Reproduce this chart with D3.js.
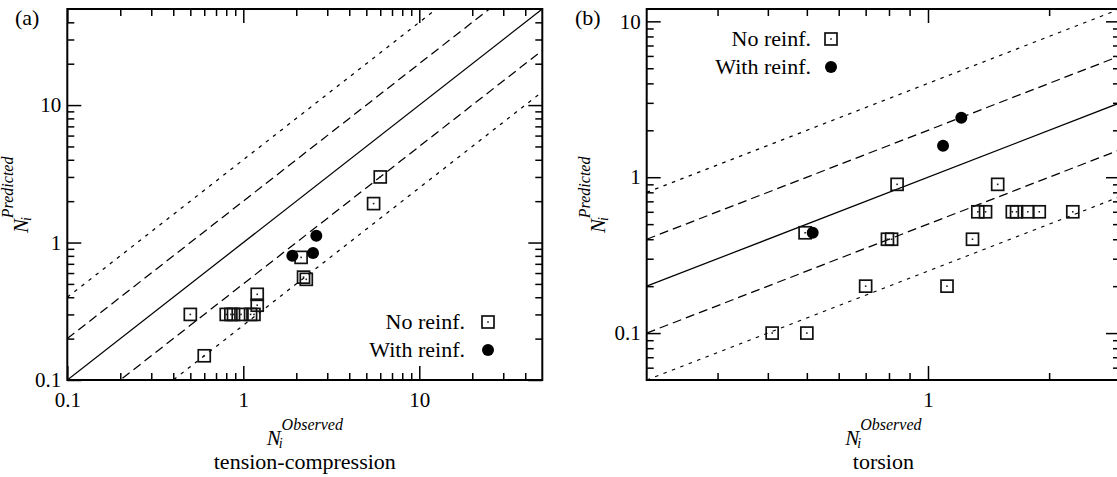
<!DOCTYPE html>
<html>
<head>
<meta charset="utf-8">
<script src="https://cdn.jsdelivr.net/npm/d3@7"></script>
<style>
  html, body { margin: 0; padding: 0; background: #fff; }
  svg { display: block; }
  svg text, svg tspan { font-family: "Liberation Serif" !important; }
</style>
</head>
<body>
<script>
// ---------------- DATA ----------------
// Panel (a): tension-compression
const aNoReinfObserved  = [0.5, 0.6, 0.8, 0.85, 0.88, 0.97, 1.1, 1.15, 1.2, 1.2, 2.13, 2.2, 2.28, 5.5, 6.0];
const aNoReinfPredicted = [0.3, 0.15, 0.3, 0.3, 0.3, 0.3, 0.3, 0.3, 0.42, 0.35, 0.78, 0.56, 0.54, 1.92, 3.0];
const aWithReinfObserved  = [1.9, 2.49, 2.6];
const aWithReinfPredicted = [0.8, 0.84, 1.12];

// Panel (b): torsion
const bNoReinfObserved  = [0.41, 0.5, 0.495, 0.70, 0.793, 0.812, 0.838, 1.115, 1.29, 1.33, 1.39, 1.49, 1.62, 1.66, 1.77, 1.89, 2.29];
const bNoReinfPredicted = [0.1, 0.1, 0.44, 0.2, 0.4, 0.4, 0.9, 0.2, 0.4, 0.6, 0.6, 0.9, 0.6, 0.6, 0.6, 0.6, 0.6];
const bWithReinfObserved  = [0.517, 1.09, 1.21];
const bWithReinfPredicted = [0.44, 1.59, 2.41];

// Scatter bands: predicted = factor * observed
const bandFactors = [0.25, 0.5, 1, 2, 4];

// Axis domains and tick labels
const aXDomain = [0.1, 50];
const aYDomain = [0.1, 50];
const bXDomain = [0.2, 3];
const bYDomain = [0.05, 12];
const aXTickValues = [0.1, 1, 10];
const aXTickLabels = ["0.1", "1", "10"];
const aYTickValues = [0.1, 1, 10];
const aYTickLabels = ["0.1", "1", "10"];
const bXTickValues = [1];
const bXTickLabels = ["1"];
const bYTickValues = [0.1, 1, 10];
const bYTickLabels = ["0.1", "1", "10"];
const legendLabels = ["No reinf.", "With reinf."];

// ---------------- DRAWING ----------------
const W = 1117, H = 477;
const svg = d3.select("body").append("svg").attr("width", W).attr("height", H);

function minorTicks(domain) {
  const out = [];
  const lo = Math.floor(Math.log10(domain[0])), hi = Math.ceil(Math.log10(domain[1]));
  for (let e = lo; e <= hi; e++) {
    for (let m = 2; m <= 9; m++) {
      const v = m * Math.pow(10, e);
      if (v > domain[0] * 1.0001 && v < domain[1] * 0.9999) out.push(v);
    }
  }
  return out;
}

function styleAxis(sel) {
  sel.attr("font-family", "Liberation Serif");
  sel.select(".domain").remove();
  sel.selectAll(".tick line").attr("stroke", "#000").attr("stroke-width", 1.5);
  sel.selectAll(".tick text").attr("font-size", 21).attr("fill", "#000");
}

// N_i^{sup} title; width estimated from Times metrics (N, i, superscript)
function sciTitle(parent, sup, supEm, cx, cy, rotate) {
  const g = parent.append("g");
  const t = g.append("text").attr("font-style", "italic").attr("fill", "#000");
  t.append("tspan").attr("font-size", 21).text("N");
  t.append("tspan").attr("font-size", 14).attr("dx", -2).attr("dy", 3).text("i");
  t.append("tspan").attr("font-size", 16).attr("dx", -1).attr("dy", -18).text(sup);
  const w = 21 * 0.667 - 2 + 14 * 0.278 - 1 + 16 * supEm;
  if (rotate) {
    g.attr("transform", `translate(${cx},${cy + w / 2}) rotate(-90)`);
  } else {
    g.attr("transform", `translate(${cx - w / 2},${cy})`);
  }
}

function drawPanel(p) {
  const x = d3.scaleLog().domain(p.xDomain).range([p.left, p.right]);
  const y = d3.scaleLog().domain(p.yDomain).range([p.bottom, p.top]);
  const g = svg.append("g");

  g.append("clipPath").attr("id", p.id + "clip")
    .append("rect")
    .attr("x", p.left).attr("y", p.top)
    .attr("width", p.right - p.left).attr("height", p.bottom - p.top);

  // band lines
  const dashFor = k => (k === 1 ? null : (Math.abs(Math.log2(k)) === 1 ? "9,5" : "3.5,5.5"));
  const lg = g.append("g").attr("clip-path", `url(#${p.id}clip)`);
  const line = d3.line().x(d => x(d[0])).y(d => y(d[1]));
  bandFactors.forEach(k => {
    lg.append("path")
      .attr("d", line(p.xDomain.map(v => [v, k * v])))
      .attr("fill", "none").attr("stroke", "#000").attr("stroke-width", 1.25)
      .attr("stroke-dasharray", dashFor(k));
  });

  // markers
  const sq = 12;
  const mg = g.append("g").attr("clip-path", `url(#${p.id}clip)`);
  p.noX.forEach((v, i) => {
    const cx = x(v), cy = y(p.noY[i]);
    mg.append("rect").attr("x", cx - sq / 2).attr("y", cy - sq / 2).attr("width", sq).attr("height", sq)
      .attr("fill", "none").attr("stroke", "#111").attr("stroke-width", 1.7);
    mg.append("rect").attr("x", cx - 0.8).attr("y", cy - 0.8).attr("width", 1.6).attr("height", 1.6).attr("fill", "#222");
  });
  p.withX.forEach((v, i) => {
    mg.append("circle").attr("cx", x(v)).attr("cy", y(p.withY[i])).attr("r", 6).attr("fill", "#000");
  });

  // axes
  const minX = minorTicks(p.xDomain), minY = minorTicks(p.yDomain);
  const majorX = p.xTicks.filter(v => v >= p.xDomain[0] && v <= p.xDomain[1]);
  const majorY = p.yTicks.filter(v => v >= p.yDomain[0] && v <= p.yDomain[1]);

  g.append("g").attr("transform", `translate(0,${p.bottom})`)
    .call(d3.axisBottom(x).tickValues(p.xTicks).tickFormat((d, i) => p.xLabels[i])
      .tickSize(-14).tickSizeOuter(0).tickPadding(12)).call(styleAxis);
  g.append("g").attr("transform", `translate(0,${p.bottom})`)
    .call(d3.axisBottom(x).tickValues(minX).tickFormat("").tickSize(-7).tickSizeOuter(0)).call(styleAxis);
  g.append("g").attr("transform", `translate(0,${p.top})`)
    .call(d3.axisTop(x).tickValues(majorX).tickFormat("").tickSize(-14).tickSizeOuter(0)).call(styleAxis);
  g.append("g").attr("transform", `translate(0,${p.top})`)
    .call(d3.axisTop(x).tickValues(minX).tickFormat("").tickSize(-7).tickSizeOuter(0)).call(styleAxis);

  g.append("g").attr("transform", `translate(${p.left},0)`)
    .call(d3.axisLeft(y).tickValues(p.yTicks).tickFormat((d, i) => p.yLabels[i])
      .tickSize(-14).tickSizeOuter(0).tickPadding(6)).call(styleAxis);
  g.append("g").attr("transform", `translate(${p.left},0)`)
    .call(d3.axisLeft(y).tickValues(minY).tickFormat("").tickSize(-7).tickSizeOuter(0)).call(styleAxis);
  g.append("g").attr("transform", `translate(${p.right},0)`)
    .call(d3.axisRight(y).tickValues(majorY).tickFormat("").tickSize(-14).tickSizeOuter(0)).call(styleAxis);
  g.append("g").attr("transform", `translate(${p.right},0)`)
    .call(d3.axisRight(y).tickValues(minY).tickFormat("").tickSize(-7).tickSizeOuter(0)).call(styleAxis);

  // frame
  g.append("rect").attr("x", p.left).attr("y", p.top)
    .attr("width", p.right - p.left).attr("height", p.bottom - p.top)
    .attr("fill", "none").attr("stroke", "#000").attr("stroke-width", 2);

  // legend
  const L = p.legend;
  legendLabels.forEach((lab, i) => {
    const cy = L.y0 + i * L.dy;
    g.append("text").attr("x", L.textX).attr("y", cy + 7)
      .attr("text-anchor", "end").attr("font-size", 22).attr("fill", "#000").text(lab);
    if (i === 0) {
      g.append("rect").attr("x", L.markX - sq / 2).attr("y", cy - sq / 2).attr("width", sq).attr("height", sq)
        .attr("fill", "none").attr("stroke", "#111").attr("stroke-width", 1.7);
      g.append("rect").attr("x", L.markX - 0.8).attr("y", cy - 0.8).attr("width", 1.6).attr("height", 1.6).attr("fill", "#222");
    } else {
      g.append("circle").attr("cx", L.markX).attr("cy", cy).attr("r", 6).attr("fill", "#000");
    }
  });

  // panel tag
  g.append("text").attr("x", p.tagX).attr("y", 24.5).attr("font-size", 22)
    .attr("fill", "#000").text(p.tag);

  // axis titles
  const cx = (p.left + p.right) / 2, cyMid = (p.top + p.bottom) / 2;
  sciTitle(g, "Observed", 3.83, cx, 445, false);
  sciTitle(g, "Predicted", 3.89, p.yTitleX, cyMid, true);
  g.append("text").attr("x", cx).attr("y", 469).attr("text-anchor", "middle")
    .attr("font-size", 22).attr("fill", "#000").text(p.caption);
}

drawPanel({
  id: "a", left: 67.3, right: 542.3, top: 9, bottom: 380,
  xDomain: aXDomain, yDomain: aYDomain,
  xTicks: aXTickValues, xLabels: aXTickLabels, yTicks: aYTickValues, yLabels: aYTickLabels,
  noX: aNoReinfObserved, noY: aNoReinfPredicted, withX: aWithReinfObserved, withY: aWithReinfPredicted,
  legend: { textX: 465, markX: 488, y0: 322, dy: 28 },
  tag: "(a)", tagX: 15, yTitleX: 28, caption: "tension-compression"
});

drawPanel({
  id: "b", left: 646.7, right: 1120, top: 9, bottom: 380,
  xDomain: bXDomain, yDomain: bYDomain,
  xTicks: bXTickValues, xLabels: bXTickLabels, yTicks: bYTickValues, yLabels: bYTickLabels,
  noX: bNoReinfObserved, noY: bNoReinfPredicted, withX: bWithReinfObserved, withY: bWithReinfPredicted,
  legend: { textX: 811, markX: 831, y0: 39, dy: 28 },
  tag: "(b)", tagX: 575, yTitleX: 605, caption: "torsion"
});
</script>
</body>
</html>
